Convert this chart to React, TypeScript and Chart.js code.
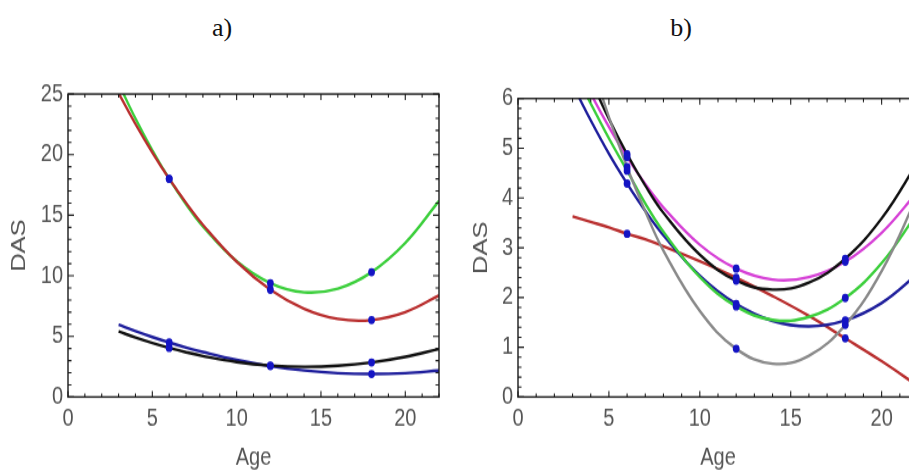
import React, { useEffect, useRef } from 'react';
import { Chart, registerables } from 'chart.js';

Chart.register(...registerables);

// ---------- data ----------
const AGES = [3, 4, 5, 6, 7, 8, 10, 12, 14, 16, 18, 20, 22];
const OBS_AGES = [6, 12, 18];
const X_TICK_LABELS_STEP = 5;

// panel a) curves (DAS vs Age)
const A_GREEN = [25.87, 22.98, 20.36, 18.0, 15.91, 14.08, 11.21, 9.4, 8.64, 8.94, 10.3, 12.71, 16.18];
const A_RED = [25.07, 22.53, 20.17, 18.0, 16.02, 14.21, 11.16, 8.85, 7.28, 6.44, 6.35, 7.0, 8.38];
const A_BLACK = [5.41, 4.91, 4.46, 4.05, 3.69, 3.38, 2.89, 2.6, 2.49, 2.58, 2.85, 3.31, 3.96];
const A_BLUE = [5.96, 5.44, 4.95, 4.5, 4.08, 3.71, 3.06, 2.55, 2.19, 1.97, 1.9, 1.97, 2.18];
// panel a) observed points at ages 6, 12, 18
const A_GREEN_OBS = [18.0, 9.4, 10.3];
const A_RED_OBS = [18.0, 8.85, 6.35];
const A_BLACK_OBS = [4.05, 2.6, 2.85];
const A_BLUE_OBS = [4.5, 2.55, 1.9];

// panel b) curves
const B_RED = [3.63, 3.52, 3.41, 3.28, 3.17, 3.03, 2.73, 2.4, 2.03, 1.63, 1.18, 0.72, 0.22];
const B_GRAY = [8.0, 6.76, 5.63, 4.62, 3.73, 2.94, 1.73, 0.97, 0.67, 0.83, 1.45, 2.53, 4.07];
const B_BLACK = [7.27, 6.39, 5.59, 4.88, 4.25, 3.7, 2.86, 2.34, 2.16, 2.3, 2.78, 3.59, 4.73];
const B_MAGENTA = [6.84, 6.1, 5.43, 4.82, 4.28, 3.81, 3.06, 2.58, 2.36, 2.41, 2.72, 3.3, 4.14];
const B_GREEN = [6.6, 5.9, 5.2, 4.55, 3.89, 3.32, 2.41, 1.82, 1.55, 1.61, 1.99, 2.69, 3.72];
const B_BLUE = [6.28, 5.56, 4.89, 4.29, 3.74, 3.25, 2.44, 1.87, 1.53, 1.42, 1.54, 1.89, 2.48];
// panel b) observed points
const B_RED_OBS = [3.28, 2.4, 1.18];
const B_GRAY_OBS = [4.62, 0.97, 1.45];
const B_BLACK_OBS = [4.88, 2.34, 2.78];
const B_MAGENTA_OBS = [4.82, 2.58, 2.72];
const B_GREEN_OBS = [4.55, 1.82, 1.99];
const B_BLUE_OBS = [4.29, 1.87, 1.54];

// ---------- styles ----------
const STRETCH = 1.22;
const FONT = "'Liberation Sans', Arial, sans-serif";
const TEXT_GRAY = '#555555';
const DOT_COLOR = '#1414c4';
const C_GREEN = '#3ccf3c';
const C_RED = '#b92f2f';
const C_BLUE = '#1f1f9c';
const C_BLACK = '#111111';
const C_MAGENTA = '#d640d6';
const C_GRAY = '#8a8a8a';
const CANVAS_H = 346;
const X_AXIS_H = 61.6;
const Y_AXIS_W = 68;

type Series = { values: number[]; obs: number[]; color: string };

const framePlugin = {
  id: 'frame',
  afterDatasetsDraw(chart: any, _args: any, opts: any) {
    const { ctx, chartArea, scales } = chart;
    const { left, right, top, bottom } = chartArea;
    const x = scales.x;
    const y = scales.y;
    ctx.save();
    ctx.strokeStyle = '#1a1a1a';
    ctx.lineWidth = 1.4;
    ctx.strokeRect(left, top, right - left, bottom - top);
    ctx.lineWidth = 1.1;
    ctx.beginPath();
    const xCount = Math.round(opts.xMax / opts.xMinor);
    const xRatio = Math.round(opts.xMajor / opts.xMinor);
    for (let i = 0; i <= xCount; i++) {
      const px = x.getPixelForValue(i * opts.xMinor);
      const len = i % xRatio === 0 ? 5 : 3;
      ctx.moveTo(px, bottom);
      ctx.lineTo(px, bottom - len);
      ctx.moveTo(px, top);
      ctx.lineTo(px, top + len);
    }
    const yCount = Math.round(opts.yMax / opts.yMinor);
    const yRatio = Math.round(opts.yMajor / opts.yMinor);
    for (let i = 0; i <= yCount; i++) {
      const py = y.getPixelForValue(i * opts.yMinor);
      const len = i % yRatio === 0 ? 6 : 3.5;
      ctx.moveTo(left, py);
      ctx.lineTo(left + len, py);
      ctx.moveTo(right, py);
      ctx.lineTo(right - len, py);
    }
    ctx.stroke();
    ctx.restore();
  },
};

type PanelProps = {
  left: number;
  width: number;
  padTop: number;
  padRight: number;
  yMax: number;
  yStep: number;
  yMinor: number;
  yTitlePad: number;
  series: Series[];
};

function Panel(p: PanelProps) {
  const ref = useRef<HTMLCanvasElement>(null);
  useEffect(() => {
    const dotData: { x: number; y: number }[] = [];
    p.series.forEach((s) => s.obs.forEach((v, i) => dotData.push({ x: OBS_AGES[i], y: v })));
    const datasets: any[] = [
      {
        data: dotData,
        pointRadius: 3.4,
        pointBackgroundColor: DOT_COLOR,
        pointBorderWidth: 0,
        showLine: false,
      },
      ...p.series.map((s) => ({
        data: AGES.map((a, i) => ({ x: a, y: s.values[i] })),
        showLine: true,
        borderColor: s.color,
        borderWidth: 2.4,
        pointRadius: 0,
        tension: 0.4,
        clip: 0,
      })),
    ];
    const chart = new Chart(ref.current as HTMLCanvasElement, {
      type: 'scatter',
      data: { datasets },
      options: {
        responsive: false,
        animation: false,
        events: [],
        layout: { padding: { top: p.padTop, right: p.padRight, left: 0, bottom: 0 } },
        elements: { line: { capBezierPoints: false } },
        plugins: {
          legend: { display: false },
          tooltip: { enabled: false },
          frame: { xMax: 22, xMinor: 1, xMajor: 5, yMax: p.yMax, yMinor: p.yMinor, yMajor: p.yStep },
        } as any,
        scales: {
          x: {
            type: 'linear',
            min: 0,
            max: 22,
            grid: { display: false, drawTicks: false },
            border: { display: false },
            ticks: {
              stepSize: X_TICK_LABELS_STEP,
              includeBounds: false,
              padding: 6,
              color: TEXT_GRAY,
              font: { family: FONT, size: 20 },
            },
            title: {
              display: true,
              text: 'Age',
              color: TEXT_GRAY,
              font: { family: FONT, size: 20 },
              padding: { top: 0, bottom: 0 },
            },
            afterFit: (s: any) => {
              s.height = X_AXIS_H;
              s.paddingLeft = 0;
              s.paddingRight = 0;
            },
          },
          y: {
            type: 'linear',
            min: 0,
            max: p.yMax,
            grid: { display: false, drawTicks: false },
            border: { display: false },
            ticks: {
              stepSize: p.yStep,
              padding: 5,
              color: TEXT_GRAY,
              font: { family: FONT, size: 20 },
            },
            title: {
              display: true,
              text: 'DAS',
              color: TEXT_GRAY,
              font: { family: FONT, size: 21 },
              padding: { top: p.yTitlePad, bottom: 0 },
            },
            afterFit: (s: any) => {
              s.width = Y_AXIS_W;
              s.paddingTop = 0;
              s.paddingBottom = 0;
            },
          },
        },
      } as any,
      plugins: [framePlugin],
    });
    return () => chart.destroy();
  }, []);
  return (
    <div
      style={{
        position: 'absolute',
        left: p.left,
        top: 50,
        width: p.width,
        height: CANVAS_H,
        transform: `scaleY(${STRETCH})`,
        transformOrigin: '0 0',
      }}
    >
      <canvas ref={ref} width={p.width} height={CANVAS_H} style={{ display: 'block' }} />
    </div>
  );
}

const titleStyle = (center: number): React.CSSProperties => ({
  position: 'absolute',
  left: center - 50,
  width: 100,
  top: 15,
  textAlign: 'center',
  fontFamily: "'Liberation Serif', 'Times New Roman', serif",
  fontSize: 26,
  lineHeight: '26px',
  color: '#111',
});

export default function App() {
  return (
    <div
      style={{
        position: 'absolute',
        left: 0,
        top: 0,
        width: 909,
        height: 472,
        overflow: 'hidden',
        background: '#ffffff',
      }}
    >
      <div style={titleStyle(222)}>a)</div>
      <div style={titleStyle(681)}>b)</div>
      <Panel
        left={0}
        width={455}
        padTop={(94 - 50) / STRETCH}
        padRight={16}
        yMax={25}
        yStep={5}
        yMinor={1}
        yTitlePad={7}
        series={[
          { values: A_RED, obs: A_RED_OBS, color: C_RED },
          { values: A_GREEN, obs: A_GREEN_OBS, color: C_GREEN },
          { values: A_BLACK, obs: A_BLACK_OBS, color: C_BLACK },
          { values: A_BLUE, obs: A_BLUE_OBS, color: C_BLUE },
        ]}
      />
      <Panel
        left={450}
        width={480}
        padTop={(98.5 - 50) / STRETCH}
        padRight={12}
        yMax={6}
        yStep={1}
        yMinor={0.2}
        yTitlePad={19}
        series={[
          { values: B_GRAY, obs: B_GRAY_OBS, color: C_GRAY },
          { values: B_GREEN, obs: B_GREEN_OBS, color: C_GREEN },
          { values: B_BLUE, obs: B_BLUE_OBS, color: C_BLUE },
          { values: B_BLACK, obs: B_BLACK_OBS, color: C_BLACK },
          { values: B_MAGENTA, obs: B_MAGENTA_OBS, color: C_MAGENTA },
          { values: B_RED, obs: B_RED_OBS, color: C_RED },
        ]}
      />
    </div>
  );
}
